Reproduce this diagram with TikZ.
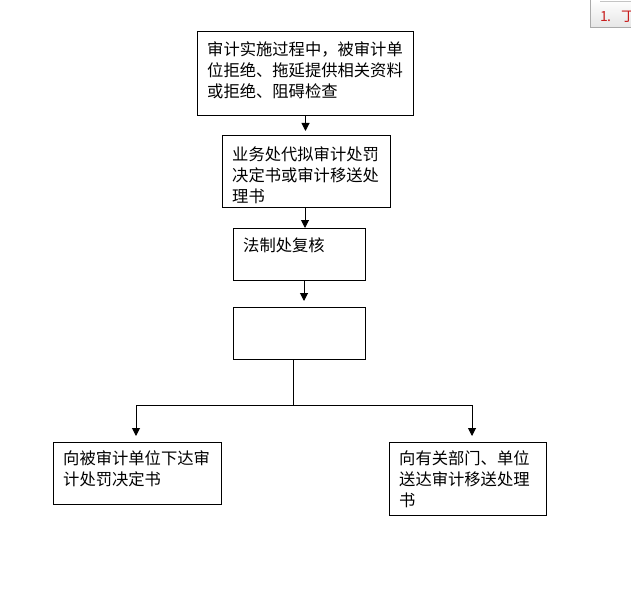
\documentclass[tikz,border=0pt]{standalone}
\usepackage{fontspec}
\newfontfamily\cjk{Noto Sans CJK SC}
\usetikzlibrary{arrows.meta}
\definecolor{tabred}{RGB}{200,30,30}
\definecolor{tabgray}{RGB}{170,170,170}
\tikzset{
  box/.style={draw=black, line width=1bp, inner sep=0pt, anchor=north west},
  txt/.style={inner sep=0pt, anchor=north west, align=left,
    font=\cjk\fontsize{16.3bp}{21bp}\selectfont},
  conn/.style={draw=black, line width=1bp},
  arr/.style={conn, -{Triangle[length=8bp,width=8bp]}},
}
\begin{document}
\begin{tikzpicture}[x=1bp,y=-1bp]
\useasboundingbox (0,0) rectangle (631,595);
\fill[white] (0,0) rectangle (631,595);
% top-right tab
\begin{scope}
\clip (0,0) rectangle (631,595);
\node[draw=tabgray, line width=1bp, top color=white, bottom color=black!10,
  minimum width=60bp, minimum height=28bp, anchor=north west, inner sep=0pt] (tab) at (590,-1) {};
\coordinate (tl) at (600,2);
\draw[tabgray!70, line width=1bp] (tl) -- (tl -| tab.east);
\node[inner sep=0pt, anchor=base west, text=tabred,
  font=\cjk\fontsize{14bp}{16bp}\selectfont] (tabtext) at (600,21.5)
  {\makebox[7bp][l]{1}\makebox[7bp][l]{.}\hspace*{7bp}丁};
\end{scope}
% boxes
\node[box, minimum width=216bp, minimum height=84bp] (b1) at (197,31) {};
\node[box, minimum width=168bp, minimum height=72bp] (b2) at (222,135) {};
\node[box, minimum width=132bp, minimum height=52bp] (b3) at (233,228) {};
\node[box, minimum width=132bp, minimum height=52bp] (b4) at (233,307) {};
\node[box, minimum width=168bp, minimum height=62bp] (b5) at (53,442) {};
\node[box, minimum width=157bp, minimum height=73bp] (b6) at (389,442) {};
% texts
\node[txt] (t1) at (207,41) {审计实施过程中，被审计单\\位拒绝、拖延提供相关资料\\或拒绝、阻碍检查};
\node[txt] (t2) at (232,146) {业务处代拟审计处罚\\决定书或审计移送处\\理书};
\node[txt] (t3) at (243,238) {法制处复核};
\node[txt] (t5) at (63,450) {向被审计单位下达审\\计处罚决定书};
\node[txt] (t6) at (399,450) {向有关部门、单位\\送达审计移送处理\\书};
% connectors
\draw[arr, shorten >=4bp] (b1.south) -- (b1.south |- b2.north);
\coordinate (c2) at (305,0);
\draw[arr] (b2.south -| c2) -- (c2 |- b3.north);
\coordinate (c3) at (304,0);
\draw[arr, shorten >=6bp] (b3.south -| c3) -- (c3 |- b4.north);
\coordinate (j) at (293,405);
\coordinate (l) at (136,405);
\coordinate (r) at (472,405);
\draw[conn] (b4.south -| j) -- (j);
\draw[conn] (l) -- (r);
\draw[arr, shorten >=6bp] (l) -- (l |- b5.north);
\draw[arr, shorten >=6bp] (r) -- (r |- b6.north);
\end{tikzpicture}
\end{document}
